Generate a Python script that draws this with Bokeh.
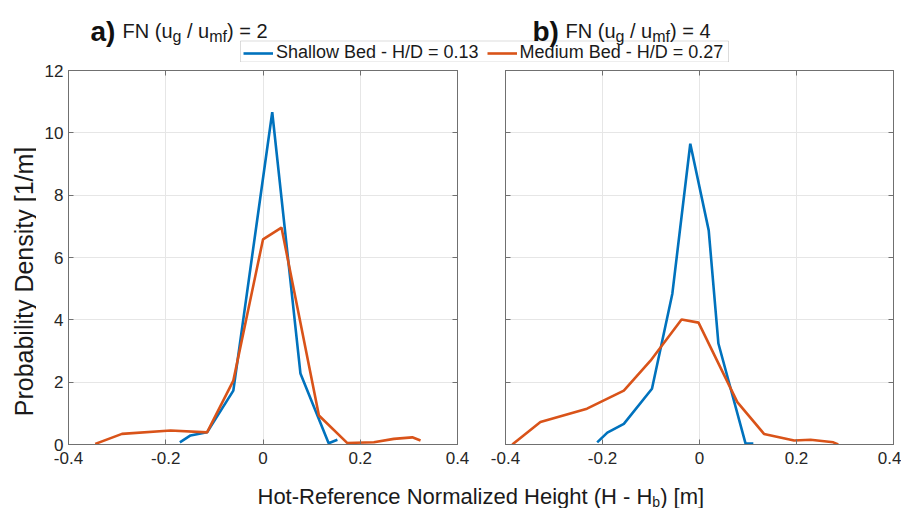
from bokeh.plotting import figure
from bokeh.layouts import column, row
from bokeh.models import (Label, Legend, LegendItem, BoxAnnotation, LinearAxis, Range1d,
                          FixedTicker, CustomJSTickFormatter)
from bokeh.embed import file_html
from bokeh.resources import INLINE
import math

# ---------------- data ----------------
a_shallow_x = [-0.171, -0.149, -0.115, -0.061, 0.019, 0.077, 0.135, 0.153]
a_shallow_y = [0.07, 0.29, 0.39, 1.73, 10.66, 2.28, 0.04, 0.15]
a_medium_x = [-0.345, -0.29, -0.19, -0.115, -0.061, 0.0, 0.038, 0.115, 0.173, 0.228, 0.269, 0.307, 0.324]
a_medium_y = [0.02, 0.34, 0.45, 0.39, 2.05, 6.58, 6.96, 0.93, 0.05, 0.07, 0.18, 0.23, 0.13]
b_shallow_x = [-0.211, -0.19, -0.156, -0.098, -0.056, -0.019, 0.019, 0.039, 0.095, 0.111]
b_shallow_y = [0.07, 0.38, 0.66, 1.79, 4.84, 9.65, 6.87, 3.24, 0.03, 0.03]
b_medium_x = [-0.386, -0.328, -0.232, -0.156, -0.101, -0.037, -0.002, 0.078, 0.133, 0.195, 0.229, 0.276, 0.286]
b_medium_y = [0.0, 0.72, 1.15, 1.73, 2.69, 4.01, 3.91, 1.36, 0.34, 0.13, 0.15, 0.07, 0.0]

x_ticks = [-0.4, -0.2, 0, 0.2, 0.4]
x_tick_labels = ["-0.4", "-0.2", "0", "0.2", "0.4"]
y_ticks = [0, 2, 4, 6, 8, 10, 12]
series_names = ["Shallow Bed - H/D = 0.13", "Medium Bed - H/D = 0.27"]
series_colors = ["#0072BD", "#D95319"]
panel_tags = ["a)", "b)"]
fn_values = ["2", "4"]
y_label = "Probability Density [1/m]"
x_label_parts = ["Hot-Reference Normalized Height (H - H", "b", ") [m]"]

FONT = "Liberation Sans"
AXIS_COL = "#707070"
TEXT_COL = "#262626"
GRID_COL = "#e6e6e6"

# Arial / Liberation Sans advance widths (per 1000 em)
AW = {' ': 278, '(': 333, ')': 333, '-': 333, '/': 278, '=': 584, '[': 278, ']': 278, '.': 278,
      '0': 556, '1': 556, '2': 556, '3': 556, '4': 556, 'H': 722, 'R': 722, 'N': 722, 'F': 611,
      'a': 556, 'b': 556, 'c': 500, 'd': 556, 'e': 556, 'f': 278, 'g': 556, 'h': 556, 'i': 222,
      'l': 222, 'm': 833, 'n': 556, 'o': 556, 'r': 333, 't': 278, 'u': 556, 'z': 500}


def tw(s, size):
    return sum(AW.get(c, 556) for c in s) * size / 1000.0


def add_pieces(p, pieces, x0, y0, oy):
    """pieces: (text, size, baseline shift) placed one after another (canvas units).
    Leading blanks are turned into offsets (SVG collapses them)."""
    x = x0
    for txt, size, dy in pieces:
        core = txt.strip(" ")
        lead = len(txt) - len(txt.lstrip(" "))
        x += tw(" " * lead, size)
        p.add_layout(Label(x=x, y=y0 + dy - oy, x_units="canvas", y_units="canvas",
                           text=core, text_font=FONT, text_font_size=f"{size}px",
                           text_color="#1a1a1a", text_baseline="alphabetic", text_align="left"))
        x += tw(txt.lstrip(" "), size)


def blank_fig(w, h):
    f = figure(width=w, height=h, x_range=Range1d(0, 1), y_range=Range1d(0, 1), title=None,
               output_backend="svg", toolbar_location=None, x_axis_location=None,
               y_axis_location=None, min_border=0)
    f.outline_line_color = None
    f.xgrid.visible = False
    f.ygrid.visible = False
    return f


def make_panel(width, bl, br, show_ylab):
    p = figure(width=width, height=412, x_range=Range1d(-0.4, 0.4), y_range=Range1d(0, 12),
               title=None, output_backend="svg", toolbar_location=None,
               min_border_left=bl, min_border_right=br, min_border_top=8, min_border_bottom=30)
    p.outline_line_color = AXIS_COL
    empty = CustomJSTickFormatter(code="return ''")
    for ax in p.xaxis:
        ax.ticker = FixedTicker(ticks=x_ticks)
        ax.major_label_overrides = {t: l for t, l in zip(x_ticks, x_tick_labels)}
        ax.major_label_standoff = 7
    for ax in p.yaxis:
        ax.ticker = FixedTicker(ticks=y_ticks)
        ax.major_label_standoff = 5
        if not show_ylab:
            ax.formatter = empty
            ax.major_label_standoff = 0
    top = LinearAxis(ticker=FixedTicker(ticks=x_ticks), formatter=empty, major_label_standoff=0)
    right = LinearAxis(ticker=FixedTicker(ticks=y_ticks), formatter=empty, major_label_standoff=0)
    p.add_layout(top, "above")
    p.add_layout(right, "right")
    for ax in p.xaxis + p.yaxis:
        ax.major_tick_in = 5
        ax.major_tick_out = 0
        ax.minor_tick_in = 0
        ax.minor_tick_out = 0
        ax.axis_line_color = AXIS_COL
        ax.major_tick_line_color = AXIS_COL
        ax.major_label_text_font = FONT
        ax.major_label_text_font_size = "17px"
        ax.major_label_text_color = TEXT_COL
    p.xgrid.ticker = FixedTicker(ticks=x_ticks)
    p.ygrid.ticker = FixedTicker(ticks=y_ticks)
    p.xgrid.grid_line_color = GRID_COL
    p.ygrid.grid_line_color = GRID_COL
    return p


# ---------- page geometry (page has no margin) ----------
# head: y 0..62 ; panels: y 62..474 (frame 70..444) ; foot: y 474..508
# ylab: x 0..36 ; p1: x 36..484 (frame 68..457) ; p2: x 484..901 (frame 505..893)
HEAD_H = 62
head = blank_fig(908, HEAD_H)
ylab = blank_fig(36, 412)
foot = blank_fig(908, 34)
p1 = make_panel(448, 32, 27, True)
p2 = make_panel(417, 21, 8, False)

p1.line(a_shallow_x, a_shallow_y, line_color=series_colors[0], line_width=2.6)
p1.line(a_medium_x, a_medium_y, line_color=series_colors[1], line_width=2.6)
p2.line(b_shallow_x, b_shallow_y, line_color=series_colors[0], line_width=2.6)
p2.line(b_medium_x, b_medium_y, line_color=series_colors[1], line_width=2.6)

# legend (in the head strip, shared by both panels); its renderers are hidden copies of the series
h1 = head.line(a_shallow_x, a_shallow_y, line_color=series_colors[0], line_width=2.6, visible=False)
h2 = head.line(a_medium_x, a_medium_y, line_color=series_colors[1], line_width=2.6, visible=False)
legend = Legend(items=[LegendItem(label=series_names[0], renderers=[h1]),
                       LegendItem(label=series_names[1], renderers=[h2])],
                orientation="horizontal", location=(243, -1), border_line_color=None,
                background_fill_alpha=0, inactive_fill_alpha=0, padding=0, margin=0, spacing=8,
                glyph_width=30, glyph_height=18, label_height=18, label_standoff=3,
                label_text_font=FONT, label_text_font_size="18px", label_text_color="#1a1a1a",
                click_policy="none")
head.add_layout(legend)
head.add_layout(BoxAnnotation(left=240, right=728, top=40.5, bottom=61.5, left_units="canvas",
                              right_units="canvas", top_units="canvas", bottom_units="canvas",
                              fill_alpha=0, line_color="#8c8c8c", line_width=1))

# panel titles
for tag, tag_x, fn_x, val in [(panel_tags[0], 90, 122, fn_values[0]),
                              (panel_tags[1], 532, 565, fn_values[1])]:
    head.add_layout(Label(x=tag_x, y=31, x_units="canvas", y_units="canvas", text=tag,
                          text_font=FONT, text_font_size="28px", text_font_style="bold",
                          text_color="#111111", text_baseline="alphabetic"))
    add_pieces(head, [("FN (u", 20, 0), ("g", 16, 6), (" / u", 20, 0), ("mf", 16, 6),
                      (") = " + val, 20, 0)], fn_x, 30, 0)

# y label (rotated)
ylab.add_layout(Label(x=23, y=281 - HEAD_H, x_units="canvas", y_units="canvas", text=y_label,
                      angle=math.pi / 2, text_font=FONT, text_font_size="25px",
                      text_color="#1a1a1a", text_align="center", text_baseline="middle"))

# x label
add_pieces(foot, [(x_label_parts[0], 22, 0), (x_label_parts[1], 14, 5), (x_label_parts[2], 22, 0)],
           257, 496, 474)

layout = column(head, row(ylab, p1, p2, spacing=0), foot, spacing=0)
open("out.html", "w").write(file_html(layout, INLINE))
